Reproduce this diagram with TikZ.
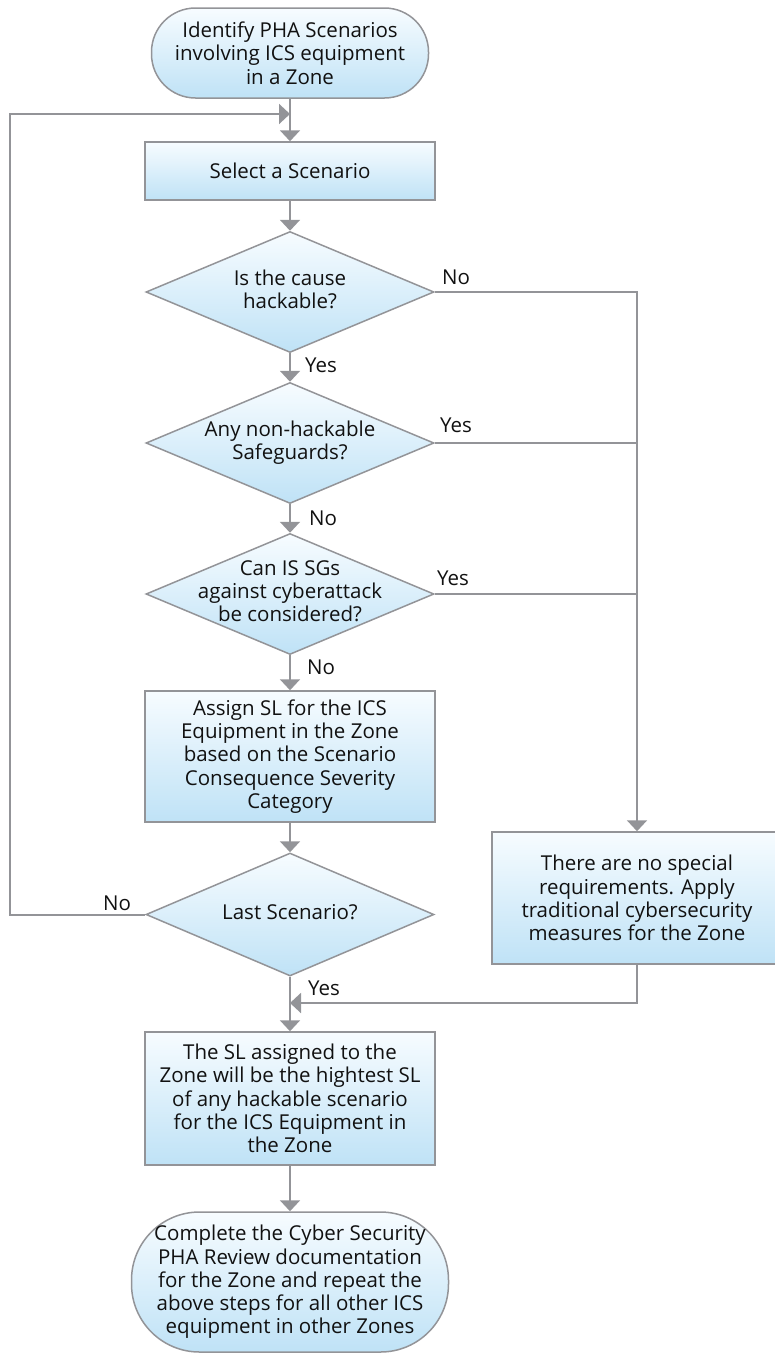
\documentclass[tikz,border=0pt]{standalone}
\usepackage{fontspec}
\setmainfont{Open Sans}
\usetikzlibrary{shapes.geometric,arrows.meta}
\definecolor{lc}{HTML}{939498}
\definecolor{fillb}{HTML}{BFE2F6}
\definecolor{fillt}{HTML}{F7FCFF}
\definecolor{txt}{HTML}{111111}
\newcommand{\zw}[1]{\makebox[0pt][c]{\begin{tabular}{@{}c@{}}#1\end{tabular}}}
\tikzset{
 base/.style={draw=lc, line width=1.5pt, top color=fillt, bottom color=fillb, align=center, font=\fontsize{20.5}{23.3}\selectfont, text=txt, inner sep=0pt},
 procbox/.style={base, rectangle, minimum width=290pt},
 termbox/.style={base, rectangle, rounded corners=44pt},
 decbox/.style={base, diamond, minimum width=288pt, minimum height=121pt, aspect=2.4},
 conn/.style={draw=lc, line width=2pt},
 arr/.style={conn, -{Triangle[width=20pt,length=11pt]}},
 lbl/.style={font=\fontsize{20.5}{23.3}\selectfont, text=txt, inner sep=0pt, anchor=west},
}
\begin{document}
\begin{tikzpicture}[x=1pt,y=-1pt]
\useasboundingbox (0,0) rectangle (775,1357);
\clip (0,0) rectangle (775,1357);
\node[termbox, minimum width=277pt, minimum height=90pt] (start) at (290,53) {Identify PHA Scenarios\\involving ICS equipment\\in a Zone};
\node[procbox, minimum height=58pt] (select) at (290,171) {Select a Scenario};
\node[decbox] (d1) at (290,292) {\zw{Is the cause\\hackable?}};
\node[decbox] (d2) at (290,443) {\zw{Any non-hackable\\Safeguards?}};
\node[decbox] (d3) at (290,594) {\zw{Can IS SGs\\against cyberattack\\be considered?}};
\node[procbox, minimum height=131pt] (assign) at (290,756.5) {Assign SL for the ICS\\Equipment in the Zone\\based on the Scenario\\Consequence Severity\\Category};
\node[decbox, minimum height=123pt] (d4) at (290,914.5) {\zw{Last Scenario?}};
\node[procbox, minimum height=132pt] (right) at (637,898) {There are no special\\requirements. Apply\\traditional cybersecurity\\measures for the Zone};
\node[procbox, minimum height=133pt] (final) at (290,1098.5) {The SL assigned to the\\Zone will be the hightest SL\\of any hackable scenario\\for the ICS Equipment in\\the Zone};
\node[termbox, minimum width=317pt, minimum height=140pt, rounded corners=68pt] (end) at (290,1282) {Complete the Cyber Security\\PHA Review documentation\\for the Zone and repeat the\\above steps for all other ICS\\equipment in other Zones};
\coordinate (loopin) at (290,114);
\coordinate (loopL) at (10,114);
\coordinate (rtop) at (637,292);
\coordinate (joinY) at (290,1003);
\draw[arr] (start.south) -- (select.north);
\draw[arr] (select.south) -- (d1.north);
\draw[arr] (d1.south) -- (d2.north);
\draw[arr] (d2.south) -- (d3.north);
\draw[arr] (d3.south) -- (assign.north);
\draw[arr] (assign.south) -- (d4.north);
\draw[arr] (d4.south) -- (final.north);
\draw[arr] (final.south) -- (end.north);
\draw[arr] (d4.west) -- (10,914.5) -- (loopL) -- (loopin);
\draw[arr] (d1.east) -- (rtop) -- (right.north);
\draw[conn] (d2.east) -- (d2.east -| rtop);
\draw[conn] (d3.east) -- (d3.east -| rtop);
\draw[arr] (right.south) |- (joinY);
\node[lbl] (l1) at (442,277) {No};
\node[lbl] (l2) at (305,365) {Yes};
\node[lbl] (l3) at (440,425) {Yes};
\node[lbl] (l4) at (309,518) {No};
\node[lbl] (l5) at (437,578) {Yes};
\node[lbl] (l6) at (307,667) {No};
\node[lbl] (l7) at (103,903) {No};
\node[lbl] (l8) at (308,988) {Yes};
\end{tikzpicture}
\end{document}
